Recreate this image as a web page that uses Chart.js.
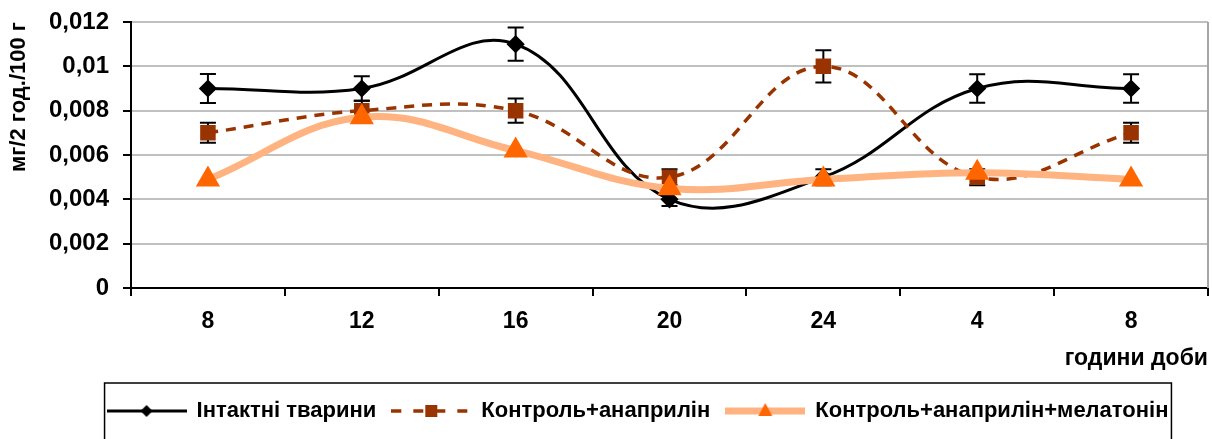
<!DOCTYPE html>
<html>
<head>
<meta charset="utf-8">
<script src="https://cdn.jsdelivr.net/npm/chart.js@4.4.1/dist/chart.umd.min.js"></script>
<style>
    html, body { margin: 0; padding: 0; background: #fff; }
    #wrap { width: 1212px; height: 439px; position: relative; }
</style>
</head>
<body>
<div id="wrap"><canvas id="mainChart"></canvas></div>
<script>
// години доби
const hours = ['8', '12', '16', '20', '24', '4', '8'];

const intactValues = [0.009, 0.009, 0.011, 0.004, 0.005, 0.009, 0.009];
const intactErrors = [0.00065, 0.00055, 0.00075, 0.0003, 0.00036, 0.00064, 0.00064];

const anaprilinValues = [0.007, 0.008, 0.008, 0.005, 0.010, 0.005, 0.007];
const anaprilinErrors = [0.00045, 0.00045, 0.00055, 0.00036, 0.00073, 0.00036, 0.00045];

const melatoninValues = [0.0049, 0.0077, 0.0062, 0.0045, 0.0049, 0.0052, 0.0049];

const yTickLabels = ['0', '0,002', '0,004', '0,006', '0,008', '0,01', '0,012'];
const seriesNames = ['Інтактні тварини', 'Контроль+анаприлін', 'Контроль+анаприлін+мелатонін'];

const COLORS = {
    INTACT: '#000000',
    ANAPRILIN: '#993300',
    MELATONIN_LINE: '#ffb380',
    MELATONIN_MARK: '#ff6600'
};

Chart.defaults.font.family = "'Liberation Sans', Arial, sans-serif";
Chart.defaults.color = '#000';

// little line+marker pictures for the legend
function legendSample(draw) {
    const c = document.createElement('canvas');
    c.width = 80;
    c.height = 18;
    draw(c.getContext('2d'), c.width, c.height / 2);
    return c;
}

const legendSamples = [
    legendSample((g, w, cy) => {
        g.strokeStyle = COLORS.INTACT;
        g.lineWidth = 3;
        g.beginPath(); g.moveTo(0, cy); g.lineTo(w, cy); g.stroke();
        g.fillStyle = COLORS.INTACT;
        g.beginPath();
        g.moveTo(w / 2, cy - 6); g.lineTo(w / 2 + 6, cy); g.lineTo(w / 2, cy + 6); g.lineTo(w / 2 - 6, cy);
        g.closePath(); g.fill();
    }),
    legendSample((g, w, cy) => {
        g.strokeStyle = COLORS.ANAPRILIN;
        g.lineWidth = 3.5;
        g.setLineDash([10, 12]);
        g.beginPath(); g.moveTo(0, cy); g.lineTo(w, cy); g.stroke();
        g.fillStyle = COLORS.ANAPRILIN;
        g.fillRect(w / 2 - 6, cy - 6, 12, 12);
    }),
    legendSample((g, w, cy) => {
        g.strokeStyle = COLORS.MELATONIN_LINE;
        g.lineWidth = 7;
        g.beginPath(); g.moveTo(0, cy); g.lineTo(w, cy); g.stroke();
        g.fillStyle = COLORS.MELATONIN_MARK;
        g.beginPath();
        g.moveTo(w / 2, cy - 8); g.lineTo(w / 2 + 7, cy + 5); g.lineTo(w / 2 - 7, cy + 5);
        g.closePath(); g.fill();
    })
];

const errorBarPlugin = {
    id: 'errorBars',
    beforeDatasetsDraw(chart) {
        const ctx = chart.ctx;
        const y = chart.scales.y;
        chart.data.datasets.forEach((ds, i) => {
            if (!ds.errors) return;
            const meta = chart.getDatasetMeta(i);
            ctx.save();
            ctx.strokeStyle = '#000';
            ctx.lineWidth = 2;
            meta.data.forEach((pt, j) => {
                const top = y.getPixelForValue(ds.data[j] + ds.errors[j]);
                const bot = y.getPixelForValue(ds.data[j] - ds.errors[j]);
                ctx.beginPath();
                ctx.moveTo(pt.x, top); ctx.lineTo(pt.x, bot);
                ctx.moveTo(pt.x - 8, top); ctx.lineTo(pt.x + 8, top);
                ctx.moveTo(pt.x - 8, bot); ctx.lineTo(pt.x + 8, bot);
                ctx.stroke();
            });
            ctx.restore();
        });
    }
};

const framePlugin = {
    id: 'frame',
    afterLayout(chart) {
        // legend sits a bit right of centre in the original
        chart.legend.left += 34;
        chart.legend.right += 34;
    },
    beforeDatasetsDraw(chart) {
        const { ctx, chartArea } = chart;
        ctx.save();
        ctx.strokeStyle = '#a6a6a6';
        ctx.lineWidth = 2;
        ctx.beginPath();
        ctx.moveTo(chartArea.right, chartArea.top);
        ctx.lineTo(chartArea.right, chartArea.bottom);
        ctx.stroke();
        ctx.restore();
    },
    afterDraw(chart) {
        const lg = chart.legend;
        const boxes = lg.legendHitBoxes;
        if (!boxes || !boxes.length) return;
        const last = boxes[boxes.length - 1];
        const left = boxes[0].left - 3;
        const right = last.left + last.width + 3;
        const ctx = chart.ctx;
        ctx.save();
        ctx.strokeStyle = '#000';
        ctx.lineWidth = 1.5;
        ctx.strokeRect(left, lg.top - 1, right - left, chart.height);
        ctx.restore();
    }
};

const ctx = document.getElementById('mainChart').getContext('2d');

new Chart(ctx, {
    type: 'line',
    data: {
        labels: hours,
        datasets: [
            {
                label: seriesNames[0],
                data: intactValues,
                errors: intactErrors,
                borderColor: COLORS.INTACT,
                borderWidth: 3,
                pointStyle: 'rectRot',
                pointRadius: 7,
                pointBackgroundColor: COLORS.INTACT,
                pointBorderColor: COLORS.INTACT,
                tension: 0.4,
                order: 3
            },
            {
                label: seriesNames[1],
                data: anaprilinValues,
                errors: anaprilinErrors,
                borderColor: COLORS.ANAPRILIN,
                borderWidth: 3.5,
                borderDash: [10, 8],
                pointStyle: 'rect',
                pointRadius: 8.5,
                pointBackgroundColor: COLORS.ANAPRILIN,
                pointBorderColor: COLORS.ANAPRILIN,
                tension: 0.4,
                order: 2
            },
            {
                label: seriesNames[2],
                data: melatoninValues,
                borderColor: COLORS.MELATONIN_LINE,
                borderWidth: 7,
                pointStyle: 'triangle',
                pointRadius: 7,
                pointBackgroundColor: COLORS.MELATONIN_MARK,
                pointBorderColor: COLORS.MELATONIN_MARK,
                tension: 0.4,
                order: 1
            }
        ]
    },
    options: {
        responsive: true,
        maintainAspectRatio: false,
        animation: false,
        layout: { autoPadding: false, padding: { top: 22, right: 4, bottom: 7, left: 0 } },
        plugins: {
            tooltip: { enabled: false },
            legend: {
                position: 'bottom',
                labels: {
                    usePointStyle: true,
                    pointStyleWidth: 78,
                    padding: 16,
                    color: '#000',
                    font: { size: 22, weight: 'bold' },
                    generateLabels: chart => chart.data.datasets.map((ds, i) => ({
                        text: ds.label,
                        pointStyle: legendSamples[i],
                        fillStyle: 'transparent',
                        strokeStyle: 'transparent',
                        lineWidth: 0,
                        hidden: false,
                        fontColor: '#000',
                        datasetIndex: i
                    }))
                }
            }
        },
        scales: {
            x: {
                offset: true,
                grid: {
                    offset: true,
                    drawOnChartArea: false,
                    tickLength: 8,
                    tickColor: '#000',
                    tickWidth: 2,
                    lineWidth: 2
                },
                border: { color: '#000', width: 2 },
                ticks: {
                    color: '#000',
                    font: { size: 23, weight: 'bold' },
                    padding: 12,
                    maxRotation: 0,
                    autoSkip: false
                },
                title: {
                    display: true,
                    text: 'години доби',
                    align: 'end',
                    color: '#000',
                    font: { size: 23, weight: 'bold' },
                    padding: { top: 0, bottom: 12 }
                },
                afterFit: scale => {
                    scale.height = 96;
                    scale.paddingLeft = 0;
                    scale.paddingRight = 0;
                }
            },
            y: {
                min: 0,
                max: 0.012,
                ticks: {
                    stepSize: 0.002,
                    color: '#000',
                    font: { size: 24, weight: 'bold' },
                    padding: 14,
                    callback: (value, index) => yTickLabels[index]
                },
                grid: {
                    color: '#c0c0c0',
                    lineWidth: 2,
                    tickColor: '#000',
                    tickLength: 8,
                    tickWidth: 2
                },
                border: { color: '#000', width: 2 },
                title: {
                    display: true,
                    text: 'мг/2 год./100 г',
                    align: 'end',
                    color: '#000',
                    font: { size: 22, weight: 'bold' },
                    padding: { top: 6, bottom: 0 }
                },
                afterFit: scale => {
                    scale.width = 131;
                    scale.paddingTop = 0;
                    scale.paddingBottom = 0;
                }
            }
        }
    },
    plugins: [errorBarPlugin, framePlugin]
});
</script>
</body>
</html>
